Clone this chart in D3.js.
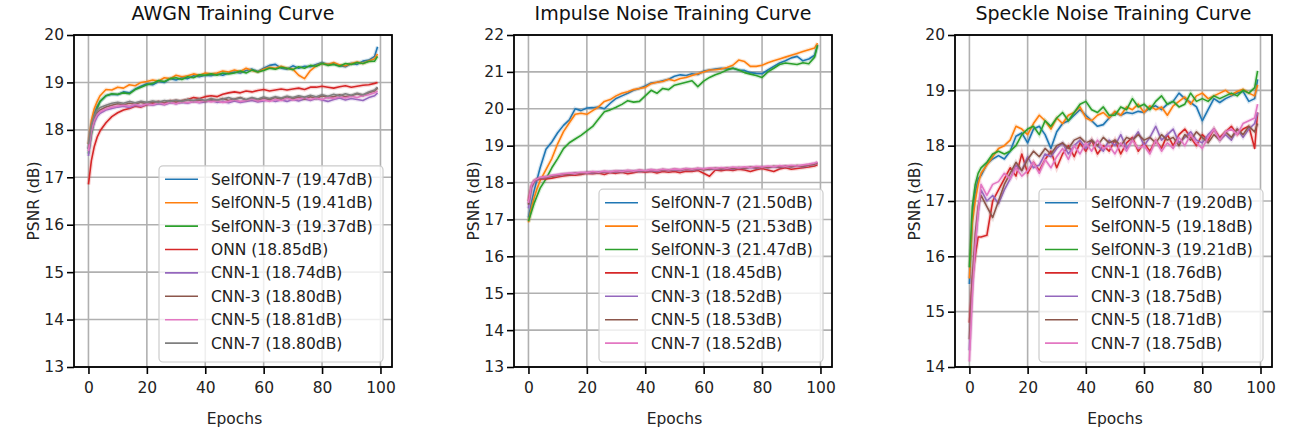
<!DOCTYPE html>
<html>
<head>
<meta charset="utf-8">
<script src="https://cdnjs.cloudflare.com/ajax/libs/d3/7.8.5/d3.min.js"></script>
<style>
  body { margin: 0; background: #fff; }
  svg { display: block; font-family: "DejaVu Sans", sans-serif; }
</style>
</head>
<body>
<script>
const epochs = [0, 1, 2, 3, 4,
  6, 8, 10, 12, 14, 16, 18, 20, 22, 24,
  26, 28, 30, 32, 34, 36, 38, 40, 42, 44,
  46, 48, 50, 52, 54, 56, 58, 60, 62, 64,
  66, 68, 70, 72, 74, 76, 78, 80, 82, 84,
  86, 88, 90, 92, 94, 96, 98,
  99];

// ---- AWGN ----
const awgnNames = ["SelfONN-7 (19.47dB)", "SelfONN-5 (19.41dB)", "SelfONN-3 (19.37dB)", "ONN (18.85dB)",
  "CNN-1 (18.74dB)", "CNN-3 (18.80dB)", "CNN-5 (18.81dB)", "CNN-7 (18.80dB)"];
const awgnSelf7 = [17.6, 18.1, 18.35, 18.5, 18.6,
  18.72, 18.75, 18.74, 18.8, 18.78, 18.86, 18.92, 18.97, 18.95, 19.02,
  19.0, 19.08, 19.05, 19.1, 19.08, 19.14, 19.12, 19.15, 19.14, 19.18,
  19.15, 19.2, 19.22, 19.2, 19.25, 19.28, 19.23, 19.3, 19.36, 19.38,
  19.3, 19.28, 19.35, 19.3, 19.34, 19.33, 19.38, 19.42, 19.38, 19.4,
  19.35, 19.33, 19.4, 19.38, 19.45, 19.47, 19.55,
  19.75];
const awgnSelf5 = [17.7, 18.2, 18.45, 18.6, 18.72,
  18.85, 18.84, 18.9, 18.88, 18.95, 18.93, 19.0, 19.02, 19.05, 19.03,
  19.1, 19.08, 19.15, 19.12, 19.14, 19.18, 19.15, 19.2, 19.18, 19.2,
  19.24, 19.22, 19.26, 19.23, 19.3, 19.25, 19.22, 19.28, 19.32, 19.3,
  19.34, 19.3, 19.28, 19.15, 19.08, 19.25, 19.35, 19.4, 19.38, 19.42,
  19.37, 19.35, 19.4, 19.43, 19.4, 19.45, 19.5,
  19.6];
const awgnSelf3 = [17.5, 17.9, 18.2, 18.45, 18.6,
  18.72, 18.76, 18.75, 18.78, 18.76, 18.85, 18.9, 18.95, 18.98, 19.04,
  19.02, 19.08, 19.1, 19.06, 19.12, 19.1, 19.16, 19.15, 19.18, 19.15,
  19.2, 19.18, 19.2, 19.24, 19.2, 19.26, 19.22, 19.25, 19.3, 19.28,
  19.32, 19.3, 19.27, 19.33, 19.3, 19.36, 19.34, 19.4, 19.36, 19.38,
  19.34, 19.4, 19.38, 19.42, 19.4, 19.44, 19.45,
  19.55];
const awgnOnn = [16.85, 17.35, 17.65, 17.85, 17.98,
  18.15, 18.28, 18.36, 18.42, 18.45, 18.5, 18.48, 18.53, 18.55, 18.57,
  18.55, 18.6, 18.62, 18.6, 18.64, 18.68, 18.66, 18.7, 18.72, 18.7,
  18.75, 18.78, 18.8, 18.78, 18.82, 18.8, 18.83, 18.85, 18.82, 18.84,
  18.86, 18.84, 18.86, 18.88, 18.85, 18.9, 18.9, 18.92, 18.9, 18.88,
  18.91, 18.93, 18.9, 18.92, 18.94, 18.95, 18.98,
  19.0];
const awgnCnn1 = [17.45, 17.95, 18.15, 18.28, 18.35,
  18.42, 18.45, 18.48, 18.5, 18.47, 18.52, 18.5, 18.54, 18.52, 18.55,
  18.53, 18.57, 18.55, 18.58, 18.56, 18.6, 18.57, 18.59, 18.62, 18.58,
  18.6, 18.57, 18.61, 18.58, 18.6, 18.62, 18.59, 18.61, 18.64, 18.6,
  18.63, 18.6, 18.64, 18.61, 18.65, 18.62, 18.66, 18.63, 18.6, 18.64,
  18.67, 18.63, 18.66, 18.64, 18.62, 18.68, 18.72,
  18.78];
const awgnCnn3 = [17.6, 18.05, 18.25, 18.36, 18.42,
  18.48, 18.52, 18.55, 18.53, 18.56, 18.54, 18.58, 18.55, 18.58, 18.6,
  18.57, 18.62, 18.58, 18.62, 18.64, 18.6, 18.63, 18.6, 18.64, 18.62,
  18.66, 18.62, 18.65, 18.68, 18.63, 18.66, 18.62, 18.67, 18.64, 18.68,
  18.65, 18.7, 18.66, 18.69, 18.65, 18.7, 18.66, 18.72, 18.68, 18.7,
  18.74, 18.7, 18.72, 18.76, 18.72, 18.78, 18.82,
  18.88];
const awgnCnn5 = [17.55, 17.98, 18.2, 18.32, 18.38,
  18.44, 18.48, 18.5, 18.52, 18.5, 18.54, 18.51, 18.55, 18.53, 18.57,
  18.54, 18.58, 18.55, 18.59, 18.57, 18.6, 18.58, 18.62, 18.59, 18.61,
  18.58, 18.6, 18.63, 18.6, 18.62, 18.65, 18.61, 18.63, 18.6, 18.64,
  18.62, 18.66, 18.63, 18.65, 18.68, 18.64, 18.67, 18.64, 18.68, 18.66,
  18.7, 18.67, 18.71, 18.68, 18.72, 18.74, 18.78,
  18.82];
const awgnCnn7 = [17.7, 18.1, 18.3, 18.42, 18.47,
  18.52, 18.56, 18.58, 18.56, 18.6, 18.57, 18.6, 18.58, 18.61, 18.58,
  18.62, 18.6, 18.63, 18.6, 18.64, 18.62, 18.65, 18.62, 18.66, 18.63,
  18.65, 18.68, 18.64, 18.67, 18.64, 18.68, 18.65, 18.69, 18.66, 18.7,
  18.67, 18.71, 18.68, 18.72, 18.69, 18.73, 18.7, 18.74, 18.71, 18.75,
  18.72, 18.76, 18.73, 18.77, 18.74, 18.8, 18.84,
  18.9];

// ---- Impulse ----
const impNames = ["SelfONN-7 (21.50dB)", "SelfONN-5 (21.53dB)", "SelfONN-3 (21.47dB)",
  "CNN-1 (18.45dB)", "CNN-3 (18.52dB)", "CNN-5 (18.53dB)", "CNN-7 (18.52dB)"];
const impSelf7 = [17.05, 17.45, 17.8, 18.1, 18.4,
  18.9, 19.1, 19.35, 19.55, 19.7, 20.0, 19.95, 20.02, 20.03, 20.05,
  20.0, 20.15, 20.28, 20.35, 20.42, 20.5, 20.55, 20.62, 20.7, 20.72,
  20.76, 20.8, 20.88, 20.92, 20.9, 20.95, 20.93, 21.02, 21.05, 21.08,
  21.1, 21.08, 21.1, 21.05, 21.04, 20.98, 20.96, 20.95, 21.05, 21.15,
  21.24, 21.3, 21.38, 21.42, 21.3, 21.35, 21.45,
  21.74];
const impSelf5 = [16.92, 17.3, 17.6, 17.85, 18.05,
  18.35, 18.65, 19.05, 19.38, 19.62, 19.85, 19.88, 19.85, 19.95, 20.05,
  20.2, 20.25, 20.35, 20.42, 20.46, 20.52, 20.55, 20.58, 20.68, 20.72,
  20.74, 20.8, 20.76, 20.82, 20.85, 20.9, 20.95, 21.0, 21.05, 21.06,
  21.08, 21.12, 21.18, 21.32, 21.28, 21.15, 21.15, 21.18, 21.25, 21.3,
  21.35, 21.4, 21.45, 21.5, 21.55, 21.6, 21.65,
  21.78];
const impSelf3 = [16.95, 17.2, 17.45, 17.65, 17.85,
  18.1, 18.4, 18.65, 18.92, 19.08, 19.18, 19.28, 19.4, 19.52, 19.72,
  19.92, 19.97, 20.04, 20.12, 20.22, 20.18, 20.2, 20.35, 20.5, 20.42,
  20.55, 20.52, 20.64, 20.68, 20.72, 20.76, 20.6, 20.75, 20.85, 20.92,
  20.98, 21.05, 21.1, 21.05, 20.98, 20.94, 20.9, 20.85, 21.0, 21.1,
  21.2, 21.24, 21.22, 21.2, 21.25, 21.22, 21.4,
  21.72];
const impCnn1 = [17.5, 17.9, 18.05, 18.08, 18.1,
  18.1, 18.12, 18.15, 18.18, 18.2, 18.2, 18.22, 18.25, 18.24, 18.26,
  18.22, 18.27, 18.25, 18.28, 18.24, 18.27, 18.3, 18.28, 18.3, 18.26,
  18.3, 18.28, 18.3, 18.27, 18.31, 18.3, 18.33, 18.25, 18.17, 18.34,
  18.32, 18.35, 18.33, 18.36, 18.34, 18.3, 18.35, 18.38, 18.34, 18.3,
  18.37, 18.4, 18.36, 18.38, 18.4, 18.42, 18.45,
  18.48];
const impCnn3 = [17.3, 17.85, 18.02, 18.08, 18.12,
  18.14, 18.18, 18.2, 18.22, 18.24, 18.25, 18.26, 18.27, 18.26, 18.29,
  18.28, 18.3, 18.29, 18.31, 18.3, 18.32, 18.3, 18.32, 18.33, 18.31,
  18.34, 18.33, 18.35, 18.33, 18.36, 18.34, 18.36, 18.37, 18.35, 18.38,
  18.36, 18.39, 18.37, 18.4, 18.38, 18.41, 18.39, 18.42, 18.4, 18.43,
  18.41, 18.44, 18.42, 18.45, 18.43, 18.47, 18.5,
  18.53];
const impCnn5 = [17.4, 17.88, 18.04, 18.1, 18.12,
  18.15, 18.17, 18.2, 18.23, 18.22, 18.26, 18.24, 18.27, 18.28, 18.26,
  18.3, 18.28, 18.31, 18.29, 18.32, 18.3, 18.33, 18.31, 18.34, 18.32,
  18.35, 18.33, 18.36, 18.34, 18.37, 18.35, 18.38, 18.34, 18.37, 18.39,
  18.37, 18.4, 18.38, 18.41, 18.39, 18.42, 18.4, 18.43, 18.41, 18.44,
  18.42, 18.45, 18.43, 18.46, 18.44, 18.48, 18.5,
  18.54];
const impCnn7 = [17.45, 17.92, 18.06, 18.1, 18.14,
  18.16, 18.2, 18.22, 18.24, 18.26, 18.25, 18.28, 18.27, 18.3, 18.28,
  18.31, 18.29, 18.32, 18.3, 18.33, 18.31, 18.34, 18.32, 18.35, 18.33,
  18.36, 18.34, 18.37, 18.35, 18.38, 18.36, 18.39, 18.37, 18.4, 18.38,
  18.41, 18.39, 18.42, 18.4, 18.43, 18.41, 18.44, 18.42, 18.45, 18.43,
  18.46, 18.44, 18.47, 18.45, 18.48, 18.5, 18.53,
  18.56];

// ---- Speckle ----
const spkNames = ["SelfONN-7 (19.20dB)", "SelfONN-5 (19.18dB)", "SelfONN-3 (19.21dB)",
  "CNN-1 (18.76dB)", "CNN-3 (18.75dB)", "CNN-5 (18.71dB)", "CNN-7 (18.75dB)"];
const spkSelf7 = [15.5, 16.7, 17.16, 17.4, 17.46,
  17.67, 17.76, 17.82, 17.76, 17.9, 18.17, 18.23, 18.05, 18.3, 18.35,
  18.2, 17.95, 18.25, 18.4, 18.45, 18.55, 18.65, 18.55, 18.45, 18.35,
  18.38, 18.5, 18.6, 18.55, 18.6, 18.58, 18.62, 18.6, 18.68, 18.72,
  18.65, 18.75, 18.8, 18.95, 18.85, 18.78, 18.7, 18.45, 18.65, 18.85,
  18.78, 18.85, 18.9, 18.95, 18.98, 18.8, 18.85,
  19.2];
const spkSelf5 = [15.6, 16.6, 17.0, 17.3, 17.5,
  17.65, 17.8, 17.95, 18.0, 18.1, 18.35, 18.3, 18.2, 18.4, 18.55,
  18.45, 18.3, 18.5, 18.4, 18.55, 18.6, 18.7, 18.5, 18.45, 18.55,
  18.6, 18.5, 18.62, 18.55, 18.7, 18.65, 18.75, 18.6, 18.72, 18.65,
  18.7, 18.55, 18.72, 18.8, 18.88, 18.75, 18.9, 18.95, 18.85, 18.9,
  18.95, 19.0, 18.92, 18.98, 19.02, 18.95, 18.9,
  19.1];
const spkSelf3 = [15.8, 16.9, 17.3, 17.5, 17.6,
  17.7, 17.85, 17.9, 17.85, 17.9, 18.0, 18.2, 18.3, 18.35, 18.2,
  18.45, 18.35, 18.5, 18.6, 18.45, 18.6, 18.75, 18.8, 18.65, 18.6,
  18.7, 18.55, 18.55, 18.7, 18.65, 18.85, 18.7, 18.75, 18.65, 18.8,
  18.9, 18.75, 18.8, 18.7, 18.75, 18.95, 18.8, 18.85, 18.8, 18.9,
  18.85, 18.9, 18.95, 18.9, 19.0, 18.95, 19.05,
  19.35];
const spkCnn1 = [14.8, 15.6, 16.0, 16.35, 16.35,
  16.38, 17.0, 17.2, 17.4, 17.6, 17.45, 17.85, 17.5, 17.7, 17.55,
  17.75, 17.9, 17.6, 17.85, 18.0, 17.8, 18.05, 17.9, 18.1, 17.85,
  18.0, 17.9, 18.1, 17.85, 18.05, 18.15, 17.9, 18.05, 17.9, 18.1,
  17.95, 18.2, 18.0, 18.2, 18.3, 18.15, 18.0, 18.2, 18.1, 18.3,
  18.15, 18.25, 18.35, 18.2, 18.3, 18.35, 17.95,
  18.6];
const spkCnn3 = [14.3, 15.5, 16.2, 16.8, 17.2,
  17.0, 17.1, 16.95, 17.2, 17.4, 17.65, 17.55, 17.8, 17.6, 17.65,
  17.85, 17.8, 17.95, 18.05, 17.85, 18.0, 18.1, 17.95, 18.1, 18.0,
  17.9, 18.1, 18.0, 18.2, 17.95, 18.1, 18.25, 18.0, 18.15, 18.35,
  18.1, 18.2, 18.3, 18.05, 18.15, 18.25, 18.1, 18.05, 18.2, 18.3,
  18.1, 18.2, 18.1, 18.3, 18.15, 18.3, 18.4,
  18.6];
const spkCnn5 = [14.5, 15.6, 16.4, 16.9, 17.1,
  16.9, 16.7, 17.0, 17.3, 17.5, 17.7, 17.55, 17.75, 17.9, 17.8,
  17.95, 17.85, 18.0, 18.05, 17.95, 18.1, 18.15, 18.05, 18.1, 18.0,
  18.15, 18.05, 18.1, 18.0, 18.15, 18.1, 18.2, 18.1, 18.15, 18.05,
  18.2, 18.1, 18.15, 18.0, 18.2, 18.1, 18.25, 18.15, 18.05, 18.2,
  18.1, 18.25, 18.15, 18.3, 18.2, 18.35, 18.25,
  18.4];
const spkCnn7 = [14.1, 15.3, 16.2, 16.8, 17.3,
  17.1, 17.3, 17.35, 17.5, 17.4, 17.6, 17.45, 17.55, 17.7, 17.5,
  17.75, 17.6, 17.8, 17.95, 17.75, 18.0, 17.85, 18.05, 17.9, 18.1,
  17.95, 18.0, 17.85, 18.05, 17.9, 18.1, 17.95, 18.0, 17.85, 18.1,
  17.9, 18.05, 17.95, 18.15, 18.0, 18.2, 18.05, 17.95, 18.15, 18.3,
  18.1, 18.25, 18.3, 18.2, 18.4, 18.45, 18.5,
  18.75];

const xTicks = [0, 20, 40, 60, 80, 100];
const tab10 = ["#1f77b4", "#ff7f0e", "#2ca02c", "#d62728", "#9467bd", "#8c564b", "#e377c2", "#7f7f7f"];

// width and height
const w = 1289;
const h = 430;
const plotTop = 35;
const plotBottom = 367;
const fontSize = 15.5;

const panels = [
  { title: "AWGN Training Curve", left: 74, right: 392, yDomain: [13, 20],
    names: awgnNames, series: [awgnSelf7, awgnSelf5, awgnSelf3, awgnOnn, awgnCnn1, awgnCnn3, awgnCnn5, awgnCnn7] },
  { title: "Impulse Noise Training Curve", left: 514, right: 832, yDomain: [13, 22],
    names: impNames, series: [impSelf7, impSelf5, impSelf3, impCnn1, impCnn3, impCnn5, impCnn7] },
  { title: "Speckle Noise Training Curve", left: 955, right: 1272, yDomain: [14, 20],
    names: spkNames, series: [spkSelf7, spkSelf5, spkSelf3, spkCnn1, spkCnn3, spkCnn5, spkCnn7] }
];

const svg = d3.select("body").append("svg").attr("width", w).attr("height", h);
svg.append("rect").attr("width", w).attr("height", h).attr("fill", "#fff");

const problems = [];

panels.forEach((p) => {
  const xScale = d3.scaleLinear().domain([-4.95, 103.95]).range([p.left, p.right]);
  const yScale = d3.scaleLinear().domain(p.yDomain).range([plotBottom, plotTop]);
  const yTicks = d3.range(p.yDomain[0], p.yDomain[1] + 1);

  const g = svg.append("g");

  // grid
  g.append("g")
    .selectAll("line")
    .data(xTicks)
    .enter()
    .append("line")
    .attr("x1", (d) => xScale(d))
    .attr("x2", (d) => xScale(d))
    .attr("y1", plotTop)
    .attr("y2", plotBottom)
    .attr("stroke", "#b0b0b0")
    .attr("stroke-width", 1.6);
  g.append("g")
    .selectAll("line")
    .data(yTicks)
    .enter()
    .append("line")
    .attr("x1", p.left)
    .attr("x2", p.right)
    .attr("y1", (d) => yScale(d))
    .attr("y2", (d) => yScale(d))
    .attr("stroke", "#b0b0b0")
    .attr("stroke-width", 1.6);

  // curves
  const line = d3
    .line()
    .x((d) => xScale(d[0]))
    .y((d) => yScale(d[1]));

  const clipId = "clip-" + p.left;
  svg.append("clipPath").attr("id", clipId)
    .append("rect")
    .attr("x", p.left).attr("y", plotTop)
    .attr("width", p.right - p.left).attr("height", plotBottom - plotTop);

  const curves = g.append("g").attr("clip-path", `url(#${clipId})`);
  p.series.forEach((vals, i) => {
    if (vals.length !== epochs.length) problems.push(p.names[i] + " has " + vals.length);
    const pts = epochs.map((e, k) => [e, vals[k]]).filter((d) => d[1] !== undefined);
    curves.append("path")
      .attr("d", line(pts))
      .attr("fill", "none")
      .attr("stroke", tab10[i])
      .attr("stroke-opacity", 0.18)
      .attr("stroke-width", 4);
    curves.append("path")
      .attr("d", line(pts))
      .attr("fill", "none")
      .attr("stroke", tab10[i])
      .attr("stroke-width", 1.6)
      .attr("stroke-linejoin", "round");
  });

  // axes
  const xAxis = d3.axisBottom(xScale).tickValues(xTicks).tickSize(7).tickPadding(8);
  const yAxis = d3.axisLeft(yScale).tickValues(yTicks).tickFormat(d3.format("d")).tickSize(7).tickPadding(3);

  const gx = g.append("g")
    .attr("transform", `translate(0, ${plotBottom})`)
    .call(xAxis);
  const gy = g.append("g")
    .attr("transform", `translate(${p.left}, 0)`)
    .call(yAxis);
  [gx, gy].forEach((a) => {
    a.select(".domain").remove();
    a.selectAll(".tick line").attr("stroke", "#000").attr("stroke-width", 1.6);
    a.selectAll(".tick text")
      .attr("fill", "#222")
      .style("font-family", "DejaVu Sans")
      .style("font-size", fontSize + "px");
  });

  // spines
  g.append("rect")
    .attr("x", p.left)
    .attr("y", plotTop)
    .attr("width", p.right - p.left)
    .attr("height", plotBottom - plotTop)
    .attr("fill", "none")
    .attr("stroke", "#000")
    .attr("stroke-width", 1.8);

  // labels
  g.append("text")
    .attr("x", (p.left + p.right) / 2)
    .attr("y", 20)
    .attr("text-anchor", "middle")
    .attr("fill", "#111")
    .style("font-size", "19px")
    .text(p.title);

  g.append("text")
    .attr("x", xScale(50))
    .attr("y", 424)
    .attr("text-anchor", "middle")
    .attr("fill", "#222")
    .style("font-size", fontSize + "px")
    .text("Epochs");

  g.append("text")
    .attr("transform", "rotate(-90)")
    .attr("x", -(plotTop + plotBottom) / 2)
    .attr("y", p.left - 35)
    .attr("text-anchor", "middle")
    .attr("fill", "#222")
    .style("font-size", fontSize + "px")
    .text("PSNR (dB)");

  // legend, lower right
  const rowH = 23.4;
  const boxW = 224;
  const boxH = p.names.length * rowH + 9;
  const boxX = p.right - 9 - boxW;
  const boxY = plotBottom - 5 - boxH;
  const lg = g.append("g");
  lg.append("rect")
    .attr("x", boxX)
    .attr("y", boxY)
    .attr("width", boxW)
    .attr("height", boxH)
    .attr("rx", 4)
    .attr("fill", "#fff")
    .attr("fill-opacity", 0.8)
    .attr("stroke", "#cccccc")
    .attr("stroke-width", 1.2);
  p.names.forEach((name, i) => {
    const cy = boxY + 13.5 + i * rowH;
    lg.append("line")
      .attr("x1", boxX + 6)
      .attr("x2", boxX + 39)
      .attr("y1", cy)
      .attr("y2", cy)
      .attr("stroke", tab10[i])
      .attr("stroke-width", 1.6);
    lg.append("text")
      .attr("x", boxX + 52)
      .attr("y", cy)
      .attr("dy", "0.36em")
      .attr("fill", "#222")
      .style("font-size", fontSize + "px")
      .text(name);
  });
});

if (problems.length) throw new Error(problems.join("; "));
</script>
</body>
</html>
